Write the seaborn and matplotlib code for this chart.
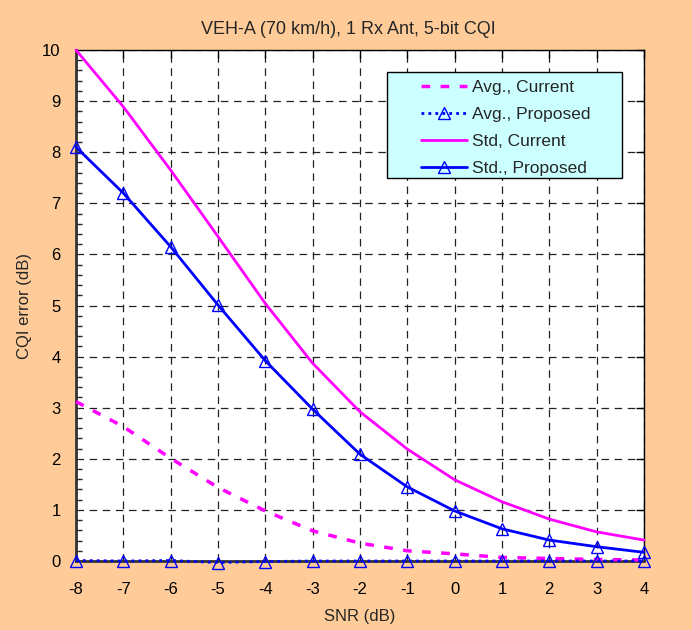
import numpy as np
import pandas as pd
import matplotlib
matplotlib.use("Agg")
import matplotlib.pyplot as plt
import seaborn as sns
from matplotlib.patches import Rectangle
from matplotlib.ticker import MultipleLocator

# SNR points (dB)
snr = [-8, -7, -6, -5, -4, -3, -2, -1, 0, 1, 2, 3, 4]

# CQI error values
avg_current = [3.12, 2.63, 2.01, 1.44, 0.98, 0.59, 0.35, 0.20, 0.14, 0.07, 0.05, 0.03, 0.02]
avg_proposed = [0.01, 0.00, 0.01, -0.03, -0.01, 0.00, 0.00, 0.00, 0.00, 0.00, 0.00, 0.00, 0.00]
std_current = [10.0, 8.89, 7.65, 6.35, 5.04, 3.87, 2.92, 2.19, 1.59, 1.16, 0.82, 0.57, 0.41]
std_proposed = [8.10, 7.20, 6.15, 5.01, 3.92, 2.97, 2.09, 1.45, 0.98, 0.63, 0.41, 0.28, 0.17]

sns.set_style("white")
plt.rcParams['font.family'] = ['Liberation Sans', 'DejaVu Sans']
plt.rcParams['axes.unicode_minus'] = False

fig = plt.figure(figsize=(6.92, 6.30), dpi=100, facecolor='#FFCC99')
ax = fig.add_axes([0.1098, 0.1095, 0.8208, 0.8111])
ax.set_facecolor('white')

df = pd.DataFrame({'snr': snr, 'avg_cur': avg_current, 'avg_prop': avg_proposed,
                   'std_cur': std_current, 'std_prop': std_proposed})

tri = dict(marker='^', markersize=8, markerfacecolor='none',
           markeredgecolor='#0000FF', markeredgewidth=1)

sns.lineplot(data=df, x='snr', y='avg_cur', ax=ax, color='#FF00FF', lw=2.5,
             label='Avg., Current')
ax.lines[-1].set_dashes((2.5, 3))
sns.lineplot(data=df, x='snr', y='avg_prop', ax=ax, color='#0000FF', lw=2,
             label='Avg., Proposed', **tri)
ax.lines[-1].set_linestyle((0, (1, 1.5)))
sns.lineplot(data=df, x='snr', y='std_cur', ax=ax, color='#FF00FF', lw=2,
             label='Std, Current')
sns.lineplot(data=df, x='snr', y='std_prop', ax=ax, color='#0000FF', lw=2,
             label='Std., Proposed', **tri)
for ln in ax.lines:
    ln.set_clip_on(False)
    ln.set_zorder(3)

ax.set_xlim(-8, 4)
ax.set_ylim(0, 10)
ax.xaxis.set_major_locator(MultipleLocator(1))
ax.yaxis.set_major_locator(MultipleLocator(1))
ax.yaxis.set_minor_locator(MultipleLocator(0.2))
ax.tick_params(axis='both', which='major', direction='in', length=6, width=1,
               top=True, right=True, labelsize=12, colors='black')
ax.tick_params(axis='x', which='major', pad=15)
ax.tick_params(axis='y', which='major', pad=11)
ax.tick_params(axis='y', which='minor', direction='in', length=4, width=1, left=True)
ax.grid(True, which='major', color='#222222', linestyle=(0, (6, 4.5)), linewidth=0.9)

for side in ['top', 'right']:
    ax.spines[side].set_color('black')
    ax.spines[side].set_linewidth(1)
for side in ['left', 'bottom']:
    ax.spines[side].set_color('#333333')
    ax.spines[side].set_linewidth(2)
    ax.spines[side].set_zorder(2.5)

ax.set_xlabel('SNR (dB)', fontsize=12)
ax.set_ylabel('CQI error (dB)', fontsize=12)
ax.xaxis.set_label_coords(0.50, -0.093)
ax.yaxis.set_label_coords(-0.077, 0.50)
fig.text(0.503, 0.953, 'VEH-A (70 km/h), 1 Rx Ant, 5-bit CQI', ha='center', va='center', fontsize=13)

# legend box drawn as a separate patch so the side padding matches
ax.add_patch(Rectangle((0.5475, 0.7495), 0.4138, 0.2075, transform=ax.transAxes,
                       facecolor='#CCFFFF', edgecolor='black', lw=1, zorder=4, clip_on=False))
leg = ax.legend(loc='upper left', bbox_to_anchor=(0.593, 0.959), fontsize=12.5,
                frameon=False, borderpad=0, handlelength=2.6, labelspacing=0.68,
                handletextpad=0.3)
leg.set_zorder(5)

plt.savefig('out.png', dpi=100, facecolor=fig.get_facecolor())
